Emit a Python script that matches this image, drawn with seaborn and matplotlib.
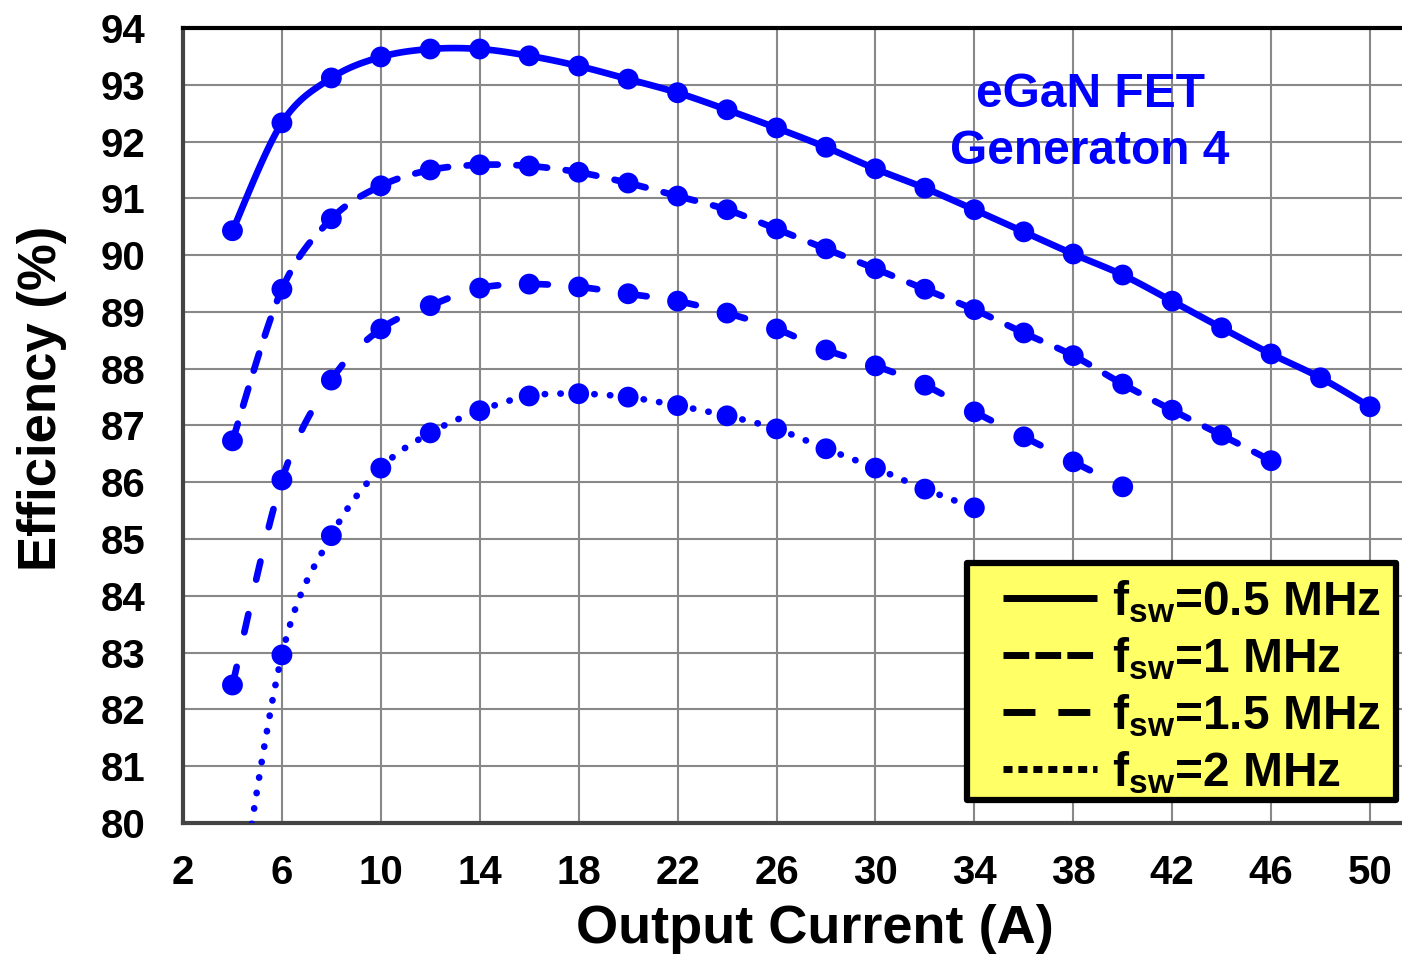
import numpy as np
import pandas as pd
import matplotlib
matplotlib.use("Agg")
import matplotlib.pyplot as plt
from matplotlib.lines import Line2D
from matplotlib.patches import Rectangle
import seaborn as sns

# ---------------- data ----------------
current_05 = [4, 6, 8, 10, 12, 14, 16, 18, 20, 22, 24, 26, 28, 30, 32, 34, 36, 38, 40, 42, 44, 46, 48, 50]
eff_05 = [90.43, 92.33, 93.12, 93.49, 93.63, 93.63, 93.51, 93.33, 93.10, 92.86, 92.56, 92.24,
          91.90, 91.52, 91.18, 90.80, 90.41, 90.02, 89.65, 89.19, 88.72, 88.26, 87.84, 87.33]

current_1 = [4, 6, 8, 10, 12, 14, 16, 18, 20, 22, 24, 26, 28, 30, 32, 34, 36, 38, 40, 42, 44, 46]
eff_1 = [86.73, 89.40, 90.64, 91.22, 91.50, 91.59, 91.57, 91.46, 91.27, 91.04, 90.80, 90.46,
         90.11, 89.76, 89.40, 89.04, 88.63, 88.23, 87.73, 87.27, 86.83, 86.38]

current_15 = [4, 6, 8, 10, 12, 14, 16, 18, 20, 22, 24, 26, 28, 30, 32, 34, 36, 38, 40]
eff_15 = [82.43, 86.04, 87.80, 88.70, 89.11, 89.42, 89.49, 89.44, 89.32, 89.19, 88.98, 88.70,
          88.33, 88.05, 87.71, 87.24, 86.80, 86.36, 85.92]

current_2 = [4, 6, 8, 10, 12, 14, 16, 18, 20, 22, 24, 26, 28, 30, 32, 34]
eff_2 = [77.8, 82.96, 85.06, 86.25, 86.87, 87.26, 87.52, 87.56, 87.50, 87.35, 87.17, 86.94,
         86.59, 86.25, 85.88, 85.55]

series_labels = ["0.5", "1", "1.5", "2"]
x_ticks = [2, 6, 10, 14, 18, 22, 26, 30, 34, 38, 42, 46, 50]
y_ticks = [80, 81, 82, 83, 84, 85, 86, 87, 88, 89, 90, 91, 92, 93, 94]

# ---------------- style ----------------
sns.set_style("white")
plt.rcParams["font.family"] = ["Liberation Sans", "DejaVu Sans"]
plt.rcParams["font.weight"] = "bold"
plt.rcParams["mathtext.fontset"] = "custom"
plt.rcParams["mathtext.rm"] = "Liberation Sans:bold"
plt.rcParams["mathtext.bf"] = "Liberation Sans:bold"
plt.rcParams["mathtext.it"] = "Liberation Sans:bold"
for key in ["text.color", "axes.labelcolor", "xtick.color", "ytick.color"]:
    plt.rcParams[key] = "black"

BLUE = "#0000FF"


def smooth_segments(xs, ys, n=40):
    """Excel-like smoothed line (Bezier through points), one piece per data interval."""
    pts = np.column_stack([xs, ys]).astype(float)
    P = np.vstack([pts[0], pts, pts[-1]])
    frames = []
    t = np.linspace(0, 1, n)
    for i in range(1, len(P) - 2):
        p0, p1, p2, p3 = P[i - 1], P[i], P[i + 1], P[i + 2]
        c1 = p1 + (p2 - p0) / 6.0
        c2 = p2 - (p3 - p1) / 6.0
        seg = (((1 - t) ** 3)[:, None] * p1 + (3 * (1 - t) ** 2 * t)[:, None] * c1
               + (3 * (1 - t) * t ** 2)[:, None] * c2 + (t ** 3)[:, None] * p2)
        frames.append(pd.DataFrame({"x": seg[:, 0], "y": seg[:, 1], "seg": i}))
    return pd.concat(frames, ignore_index=True)


W, H = 1402, 957
fig = plt.figure(figsize=(W / 100, H / 100), dpi=100)
ax_left, ax_right, ax_top, ax_bottom = 183, 1402, 28, 823
ax = fig.add_axes([ax_left / W, 1 - ax_bottom / H, (ax_right - ax_left) / W, (ax_bottom - ax_top) / H])

LW = 4.8
styles = {
    "0.5": dict(linestyle="-"),
    "1": dict(linestyle=(0, (2.7, 2.8))),
    "1.5": dict(linestyle=(0, (2.8, 5.3))),
    "2": dict(linestyle=(0, (0.05, 2.3))),
}
datasets = [(current_05, eff_05), (current_1, eff_1), (current_15, eff_15), (current_2, eff_2)]

for lab, (xs, ys) in zip(series_labels, datasets):
    df_s = smooth_segments(xs, ys)
    sns.lineplot(data=df_s, x="x", y="y", units="seg", ax=ax, color=BLUE, lw=LW, estimator=None,
                 sort=False, dash_capstyle="round", solid_capstyle="round", zorder=3, **styles[lab])
    sns.scatterplot(x=xs, y=ys, ax=ax, color=BLUE, s=15 ** 2, edgecolor="none", zorder=4)

ax.set_xlim(2, 2 + (ax_right - ax_left) / ((1370 - 183) / 48))
ax.set_ylim(80, 94)
ax.set_xticks(x_ticks)
ax.set_yticks(y_ticks)
ax.tick_params(axis="both", length=0, labelsize=29, colors="black")
ax.tick_params(axis="y", pad=27)
ax.tick_params(axis="x", pad=22)
for lbl in ax.get_xticklabels() + ax.get_yticklabels():
    lbl.set_fontweight("bold")

ax.grid(True, color="#888888", lw=1.5)
ax.set_axisbelow(True)

ax.spines["top"].set_color("black")
ax.spines["top"].set_linewidth(3)
for side in ["left", "bottom"]:
    ax.spines[side].set_color("#444444")
    ax.spines[side].set_linewidth(3)
ax.spines["right"].set_visible(False)

ax.set_xlabel("Output Current (A)", fontsize=39, fontweight="bold", color="black")
ax.set_ylabel("Efficiency (%)", fontsize=38, fontweight="bold", color="black")
ax.xaxis.set_label_coords((815 - ax_left) / (ax_right - ax_left), (ax_bottom - 929) / (ax_bottom - ax_top))
ax.xaxis.label.set_verticalalignment("center")
ax.yaxis.set_label_coords((42 - ax_left) / (ax_right - ax_left), (ax_bottom - 398) / (ax_bottom - ax_top))
ax.yaxis.label.set_verticalalignment("center")

ax.text((1090 - ax_left) / (ax_right - ax_left), (ax_bottom - 123) / (ax_bottom - ax_top),
        "eGaN FET\nGeneraton 4", transform=ax.transAxes, color=BLUE, fontsize=34.5,
        fontweight="bold", ha="center", va="center", multialignment="center", linespacing=1.36)


def px_to_axes(px, py):
    return ((px - ax_left) / (ax_right - ax_left), (ax_bottom - py) / (ax_bottom - ax_top))


# legend box (yellow fill below, black border above the legend texts)
lx0, ly0 = px_to_axes(967, 800)
lx1, ly1 = px_to_axes(1396, 563)
ax.add_patch(Rectangle((lx0, ly0), lx1 - lx0, ly1 - ly0, transform=ax.transAxes,
                       facecolor="#FFFF66", edgecolor="none", zorder=9, clip_on=False))
ax.add_patch(Rectangle((lx0, ly0), lx1 - lx0, ly1 - ly0, transform=ax.transAxes,
                       facecolor="none", edgecolor="black", lw=4.5, joinstyle="round",
                       zorder=11, clip_on=False))

handles = [
    Line2D([], [], color="black", lw=5, linestyle="-", solid_capstyle="butt"),
    Line2D([], [], color="black", lw=5, linestyle=(0, (3.7, 0.9)), dash_capstyle="butt"),
    Line2D([], [], color="black", lw=5, linestyle=(0, (4.6, 3.3)), dash_capstyle="butt"),
    Line2D([], [], color="black", lw=5, linestyle=(0, (1.3, 0.85)), dash_capstyle="butt"),
]
labels = [r"f$_{\mathrm{sw}}$=%s MHz" % s for s in series_labels]
leg = ax.legend(handles, labels, loc="upper left", bbox_to_anchor=px_to_axes(1003, 578),
                borderaxespad=0, prop={"weight": "bold", "size": 34.5},
                handlelength=1.96, handletextpad=0.31, labelspacing=0.215, borderpad=0,
                frameon=False)
for t in leg.get_texts():
    t.set_color("black")
leg.set_zorder(10)

fig.savefig("out.png", dpi=100)
